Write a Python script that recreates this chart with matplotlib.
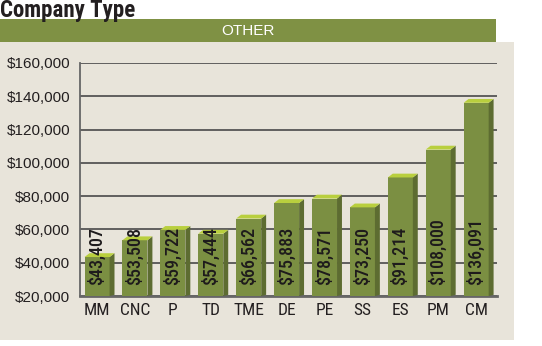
import matplotlib
matplotlib.use("Agg")
import matplotlib.pyplot as plt
from matplotlib import font_manager
from matplotlib.patches import Rectangle, Polygon

categories = ["MM", "CNC", "P", "TD", "TME", "DE", "PE", "SS", "ES", "PM", "CM"]
values = [43407, 53508, 59722, 57444, 66562, 75883, 78571, 73250, 91214, 108000, 136091]
labels = ["$43,407", "$53,508", "$59,722", "$57,444", "$66,562", "$75,883",
          "$78,571", "$73,250", "$91,214", "$108,000", "$136,091"]
yticks = [20000, 40000, 60000, 80000, 100000, 120000, 140000, 160000]
ytick_labels = ["$20,000", "$40,000", "$60,000", "$80,000", "$100,000",
                "$120,000", "$140,000", "$160,000"]

available = {f.name for f in font_manager.fontManager.ttflist}


def pick(cands):
    for c in cands:
        if c in available:
            return [c, "DejaVu Sans"]
    return ["DejaVu Sans"]


narrow = pick(["Liberation Sans Narrow", "Roboto Condensed", "Archivo Narrow",
               "Sofia Sans Condensed", "DejaVu Sans"])
regular = pick(["Liberation Sans", "Arimo", "DejaVu Sans"])

W, H = 542, 346
fig = plt.figure(figsize=(W / 100, H / 100), dpi=100)
fig.patch.set_facecolor("white")

# beige panel
fig.patches.append(Rectangle((0, 1 - 340 / H), 514 / W, (340 - 42) / H,
                             transform=fig.transFigure, facecolor="#e8e4da",
                             edgecolor="none", zorder=-10))
# green band
fig.patches.append(Rectangle((0, 1 - 42 / H), 496 / W, 23 / H,
                             transform=fig.transFigure, facecolor="#7f9144",
                             edgecolor="none", zorder=-9))
fig.text(248 / W, 1 - 31 / H, "OTHER", color="white", ha="center", va="center",
         fontsize=11, family=regular)
fig.text(0 / W, 1 - 17.5 / H, "Company Type", color="#231f20", ha="left", va="baseline",
         fontsize=16.5, fontweight="bold", family=narrow)

ax = fig.add_axes([80 / W, 1 - 296 / H, (497 - 80) / W, (296 - 63) / H])
ax.set_facecolor("none")
ax.set_xlim(-0.45, 10.55)
ax.set_ylim(20000, 160000)

front = "#7b8f42"
top_c = "#b9cf3e"
side_c = "#5d6c31"
bw = 0.66
dx = 0.13
dy = 2300
base = 20000

for i, v in enumerate(values):
    x0 = i - bw / 2
    x1 = i + bw / 2
    ax.add_patch(Rectangle((x0, base), bw, v - base, facecolor=front,
                           edgecolor="none", zorder=3))
    ax.add_patch(Polygon([(x1, base), (x1 + dx, base + dy * 0.3), (x1 + dx, v + dy), (x1, v)],
                         closed=True, facecolor=side_c, edgecolor="none", zorder=3))
    ax.add_patch(Polygon([(x0, v), (x0 + dx, v + dy), (x1 + dx, v + dy), (x1, v)],
                         closed=True, facecolor=top_c, edgecolor="none", zorder=3))
    ax.text(i, base + 6800, labels[i], rotation=90, ha="center", va="bottom",
            fontsize=13, fontweight="medium", color="#1e1b1c", family=narrow, zorder=4)

ax.set_yticks(yticks)
ax.set_yticklabels(ytick_labels, family=regular, fontsize=11, color="#231f20")
ax.set_xticks(range(len(categories)))
ax.set_xticklabels(categories, family=narrow, fontsize=12.5, color="#231f20")
ax.tick_params(axis="both", length=0)
ax.tick_params(axis="y", pad=7)
ax.tick_params(axis="x", pad=5)
ax.grid(axis="y", color="#555555", linewidth=1.3, zorder=1)
ax.set_axisbelow(True)
for s in ["top", "right"]:
    ax.spines[s].set_visible(False)
ax.spines["left"].set_color("#666666")
ax.spines["left"].set_linewidth(1.3)
ax.spines["bottom"].set_color("#666666")
ax.spines["bottom"].set_linewidth(2)

fig.savefig("out.png", dpi=100)
